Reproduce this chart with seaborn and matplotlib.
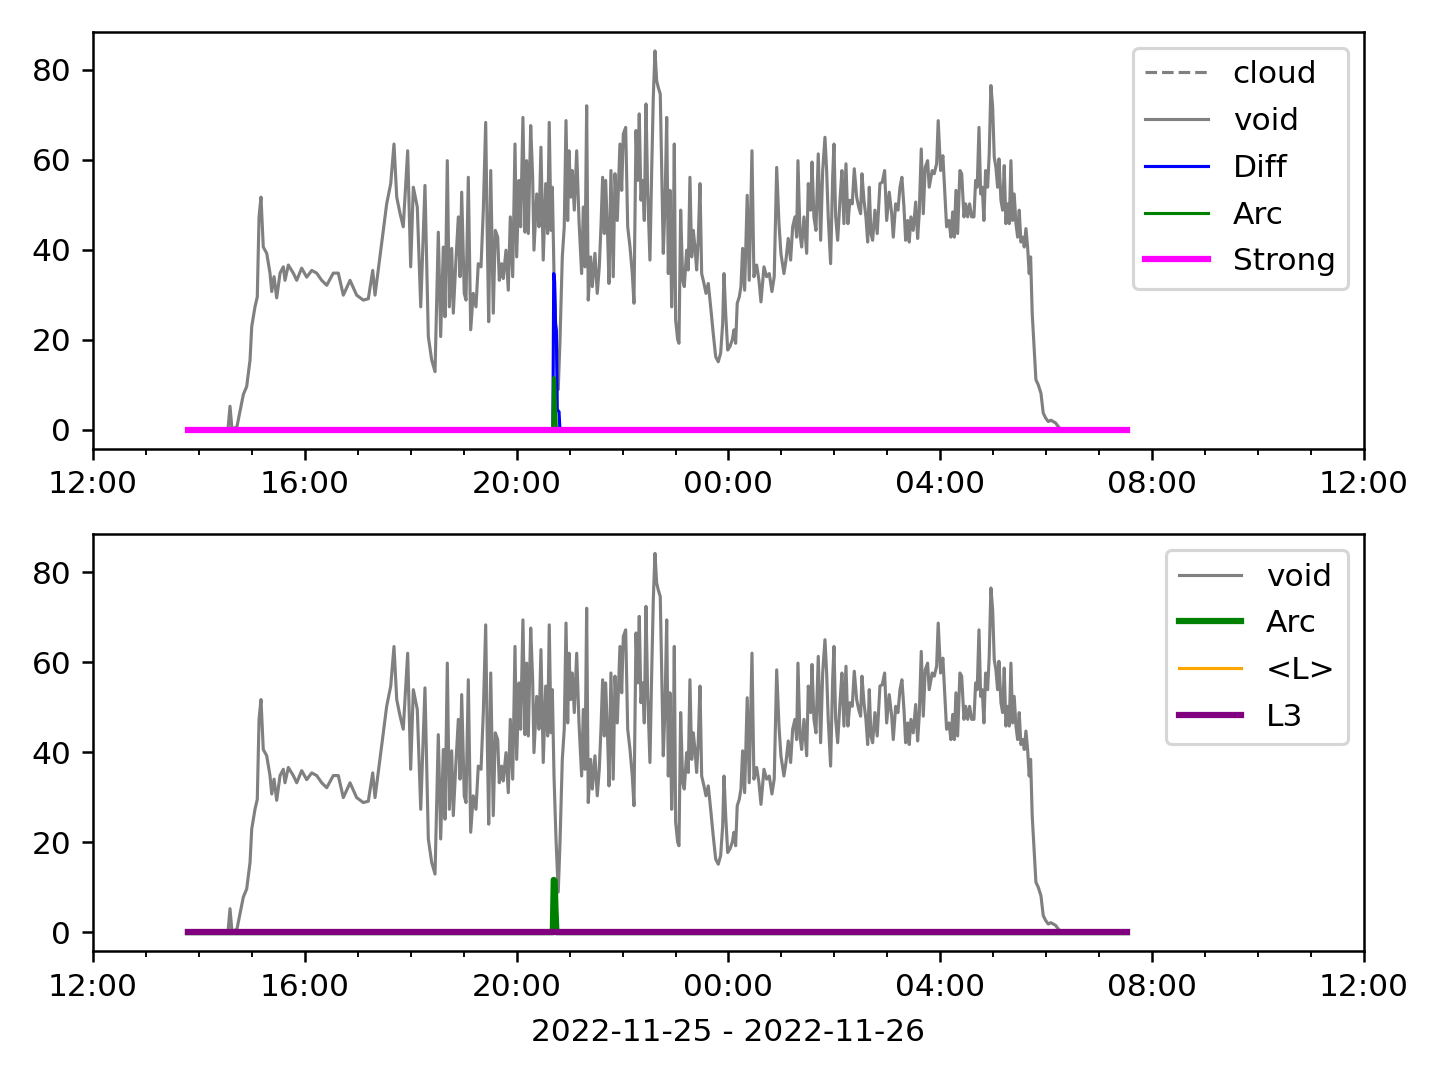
import numpy as np
import pandas as pd
import matplotlib
matplotlib.use("Agg")
import matplotlib.pyplot as plt
import matplotlib.dates as mdates
import seaborn as sns

# ---- data (minutes after 2022-11-25 12:00) ----
base_time = "2022-11-25 12:00"

void_min = [
    107.6, 152.9, 155.2, 157.5, 163.1, 170.3, 174.1, 177.9, 179.8, 183.5, 186.1, 188.1, 190.3, 192.9,
    196.8, 200.5, 202.5, 205.1, 208.1, 211.9, 215.6, 217.5, 221.3, 226.9, 230.8, 236.4, 242.1, 247.8,
    253.4, 259.1, 264.8, 272.2, 277.9, 283.6, 291.2, 298.7, 306.2, 311.9, 316.9, 319.5, 325.1, 328.9,
    332.7, 337.3, 341.0, 344.1, 347.8, 351.5, 356.5, 359.9, 362.9, 367.4, 371.3, 376.1, 379.9, 383.7,
    387.5, 391.2, 393.9, 396.9, 398.8, 401.4, 403.7, 406.4, 408.2, 411.2, 413.9, 415.8, 417.7, 420.6,
    422.6, 425.2, 427.9, 430.8, 433.9, 436.5, 439.6, 442.2, 444.9, 446.7, 448.3, 450.6, 453.5, 455.8,
    458.5, 460.3, 463.0, 464.8, 467.9, 470.5, 472.8, 475.5, 478.1, 480.0, 482.6, 484.5, 487.1, 489.4,
    491.3, 493.2, 495.9, 498.1, 499.6, 502.7, 505.3, 507.5, 510.1, 512.9, 515.1, 516.9, 518.9, 520.4,
    522.3, 524.5, 527.1, 529.1, 531.7, 533.9, 535.9, 537.8, 539.3, 541.2, 543.0, 545.3, 548.0, 550.6,
    553.6, 555.5, 557.4, 559.3, 561.1, 563.8, 565.7, 568.7, 571.3, 573.6, 575.5, 577.4, 579.3, 580.8,
    583.1, 584.6, 586.8, 589.4, 591.4, 594.0, 597.0, 599.0, 600.8, 603.5, 605.8, 608.4, 611.0, 612.9,
    615.2, 617.1, 618.9, 620.8, 622.8, 624.6, 626.5, 628.4, 631.0, 632.9, 634.8, 636.7, 638.6, 640.4,
    642.7, 644.3, 646.1, 648.0, 650.0, 651.8, 653.7, 655.6, 657.4, 658.6, 660.1, 662.4, 663.9, 665.8,
    668.1, 669.9, 672.6, 674.4, 676.3, 678.3, 680.1, 682.0, 683.9, 685.7, 687.7, 689.6, 692.2, 694.5,
    697.1, 699.8, 702.7, 705.5, 708.4, 711.1, 713.4, 714.9, 716.8, 719.1, 721.7, 724.3, 726.2, 728.1,
    729.9, 732.2, 734.1, 736.0, 738.3, 741.2, 743.5, 746.6, 748.8, 751.9, 754.5, 756.8, 760.2, 763.2,
    766.2, 769.2, 771.8, 774.6, 777.2, 779.4, 782.8, 785.1, 787.7, 790.4, 792.7, 795.3, 797.2, 798.7,
    801.0, 802.9, 805.5, 808.6, 810.4, 813.1, 814.6, 816.8, 819.1, 821.7, 824.4, 826.7, 829.3, 831.2,
    833.0, 835.7, 838.0, 839.5, 841.4, 843.7, 846.3, 848.5, 850.8, 853.1, 855.3, 857.6, 860.2, 862.5,
    865.2, 867.5, 869.7, 871.2, 873.5, 875.7, 877.7, 879.5, 881.4, 883.3, 885.9, 888.5, 891.6, 894.2,
    896.9, 899.2, 902.1, 904.9, 906.7, 909.4, 912.0, 914.3, 916.5, 918.8, 920.7, 923.0, 924.8, 926.7,
    929.3, 932.1, 934.3, 936.1, 938.4, 940.7, 942.9, 945.6, 947.4, 950.8, 953.1, 955.8, 957.6, 960.3,
    962.9, 965.2, 967.1, 969.8, 972.0, 974.0, 975.8, 977.7, 979.6, 982.2, 984.2, 986.8, 988.7, 991.0,
    993.2, 995.5, 998.1, 1000.0, 1001.8, 1003.8, 1005.7, 1007.5, 1009.4, 1011.3, 1013.6, 1015.4,
    1017.3, 1019.3, 1021.1, 1023.0, 1024.9, 1026.4, 1028.7, 1030.6, 1032.4, 1034.3, 1036.3, 1038.1,
    1040.0, 1041.9, 1043.7, 1045.7, 1047.6, 1049.4, 1051.3, 1053.6, 1055.1, 1057.0, 1058.9, 1060.7,
    1062.3, 1064.1, 1066.4, 1068.3, 1070.9, 1074.0, 1076.6, 1079.3, 1082.3, 1085.3, 1087.9, 1090.6,
    1093.6, 1096.7, 1171.4,
]
void_val = [
    0, 0, 5.2, 0, 0.7, 7.8, 9.6, 15.5, 22.9, 27.3, 29.5, 47.3, 51.7, 40.6,
    39.2, 34.8, 30.7, 34, 29.3, 34.8, 36.2, 33.2, 36.6, 34.8, 33.2, 35.9, 33.9, 35.4,
    34.8, 33.2, 32.1, 34.8, 34.8, 29.9, 33.2, 29.9, 28.8, 29.1, 35.4, 29.9, 38.4, 44.3,
    50.2, 54.7, 63.5, 51.7, 48.1, 45.1, 62, 36.2, 53.9, 49.5, 27.3, 54.3, 20.7, 15.5,
    12.9, 43.9, 20.7, 40.6, 25.1, 59.8, 27.3, 40.3, 25.9, 37.7, 47.3, 34, 52.8, 30.3,
    28.8, 56.1, 22.2, 30.3, 27.3, 36.9, 36.2, 48.8, 68.3, 42.8, 24, 57.6, 25.9, 44.3,
    42.8, 33.2, 36.9, 33.6, 39.9, 31, 47.3, 34, 63.5, 38.4, 55.4, 45.1, 69.4, 43.9,
    59.8, 43.6, 67.6, 56.1, 39.9, 52.4, 45.1, 62.8, 37.7, 54.7, 43.6, 68.3, 44.3, 53.9,
    34.7, 21, 8.9, 20, 38.4, 45.1, 68.7, 46.5, 62, 51.7, 57.6, 48.8, 62, 46.5,
    34.7, 49.5, 36.2, 72, 28.8, 38.4, 31.8, 39.2, 30.3, 36.2, 45.1, 56.1, 43.6, 55.4,
    42.8, 32.5, 57.6, 34, 56.9, 46.5, 63.5, 53.2, 65.7, 67.2, 45.1, 40.6, 34.7, 28.1,
    66.5, 55.4, 70.2, 51, 55.4, 46.5, 72.4, 53.2, 37.7, 56.9, 73.9, 84.2, 77.6, 76.1,
    74.6, 58.3, 39.2, 49.5, 69.4, 34.7, 53.2, 27.3, 40.6, 63.5, 24.4, 20, 19.2, 48.8,
    33.2, 31.8, 39.9, 35.5, 56.1, 38.4, 44.3, 40.6, 35.5, 42.1, 54.7, 34.7, 32.5, 30.3,
    32.5, 27.3, 21.4, 16.2, 15.1, 17, 23.6, 34.7, 25.9, 17.7, 18.5, 20, 22.2, 19.2,
    28.1, 29.5, 31.8, 40.3, 31, 52.1, 33.2, 62, 34, 36.6, 33.2, 28.4, 36.2, 34,
    34.7, 30.7, 34, 58.3, 45.8, 39.2, 34.7, 37.7, 42.5, 37.7, 45.1, 47.3, 42.8, 59.8,
    43.6, 40.6, 47.3, 39.2, 54.7, 48.8, 59.5, 47.3, 44.3, 61.3, 42.1, 57.6, 65, 57.6,
    47.3, 36.9, 56.1, 63.5, 47.3, 42.1, 51, 57.6, 45.8, 59.1, 45.8, 51, 50.2, 58,
    51.7, 49.5, 48, 56.9, 51, 47.3, 41.7, 53.9, 43.6, 42.1, 48.8, 43.6, 54.7, 55,
    57.6, 46.5, 52.8, 48, 42.8, 50.2, 48.8, 53.9, 56.1, 49.5, 42.1, 46.5, 41.7, 47.3,
    44.3, 50.6, 42.5, 48, 62.4, 48, 58.3, 59.8, 53.9, 57.6, 56.9, 59.1, 68.7, 57.6,
    60.9, 52.4, 45.1, 46.5, 42.8, 48.4, 42.8, 53.2, 43.6, 57.6, 56.9, 47.3, 50.2, 47.3,
    50.2, 47.3, 47.3, 55.4, 53.9, 67.2, 52.4, 53.9, 46.5, 57.6, 53.9, 61.3,
    76.5, 71.7, 60.6, 58.3, 53.9, 60.2, 51, 48.8, 58.7, 45.8, 50.2, 45.8,
    59.8, 46.5, 52.4, 45.8, 42.8, 48.8, 41.7, 42.8, 40.6, 44.7, 40.6, 34.7,
    38.4, 25.9, 17.7, 11.1, 10, 8.1, 3.7, 2.6, 1.8, 2.1, 1.8, 1.5,
    0.7, 0, 0,
]

diff_min = [107.6, 521.0, 522.0, 523.0, 524.0, 525.0, 526.0, 527.0, 528.0, 529.0, 1171.4]
diff_val = [0, 0, 34.7, 33.0, 23.6, 22.0, 4.4, 4.2, 4.0, 0, 0]

arc_min = [107.6, 521.0, 522.0, 523.0, 524.0, 525.0, 1171.4]
arc_val = [0, 0, 11.6, 11.4, 4.9, 0, 0]

flat_min = [107.6, 1171.4]
cloud_val = [0, 0]
strong_val = [0, 0]
mean_l_val = [0, 0]
l3_val = [0, 0]

xlabel_text = "2022-11-25 - 2022-11-26"


def to_time(mins):
    return pd.Timestamp(base_time) + pd.to_timedelta(np.asarray(mins, dtype=float), unit="min")


t_void = to_time(void_min)
t_diff = to_time(diff_min)
t_arc = to_time(arc_min)
t_flat = to_time(flat_min)

fig, (ax1, ax2) = plt.subplots(2, 1, figsize=(6.4, 4.8), dpi=225)
fig.subplots_adjust(left=0.0646, right=0.9472, top=0.9704, bottom=0.1194, hspace=0.206)

# top panel
sns.lineplot(x=t_flat, y=cloud_val, ax=ax1, color="gray", lw=1, linestyle="--", label="cloud", estimator=None)
sns.lineplot(x=t_void, y=void_val, ax=ax1, color="gray", lw=1, label="void", estimator=None)
sns.lineplot(x=t_diff, y=diff_val, ax=ax1, color="blue", lw=1, label="Diff", estimator=None)
sns.lineplot(x=t_arc, y=arc_val, ax=ax1, color="green", lw=1, label="Arc", estimator=None)
sns.lineplot(x=t_flat, y=strong_val, ax=ax1, color="magenta", lw=2, label="Strong", estimator=None)

# bottom panel
sns.lineplot(x=t_void, y=void_val, ax=ax2, color="gray", lw=1, label="void", estimator=None)
sns.lineplot(x=t_arc, y=arc_val, ax=ax2, color="green", lw=2, label="Arc", estimator=None)
sns.lineplot(x=t_flat, y=mean_l_val, ax=ax2, color="orange", lw=1, label="<L>", estimator=None)
sns.lineplot(x=t_flat, y=l3_val, ax=ax2, color="purple", lw=2, label="L3", estimator=None)

xmin = pd.Timestamp("2022-11-25 12:00")
xmax = pd.Timestamp("2022-11-26 12:00")
for ax in (ax1, ax2):
    ax.set_xlim(xmin, xmax)
    ax.xaxis.set_major_locator(mdates.HourLocator(byhour=range(0, 24, 4)))
    ax.xaxis.set_minor_locator(mdates.HourLocator())
    ax.xaxis.set_major_formatter(mdates.DateFormatter("%H:%M"))
    ax.set_yticks([0, 20, 40, 60, 80])
    ax.set_ylabel("")
    ax.set_xlabel("")
    ax.legend(loc="upper right", labelspacing=0.57)

ax2.set_xlabel(xlabel_text, labelpad=5.3)

fig.savefig("out.png", dpi=225)
